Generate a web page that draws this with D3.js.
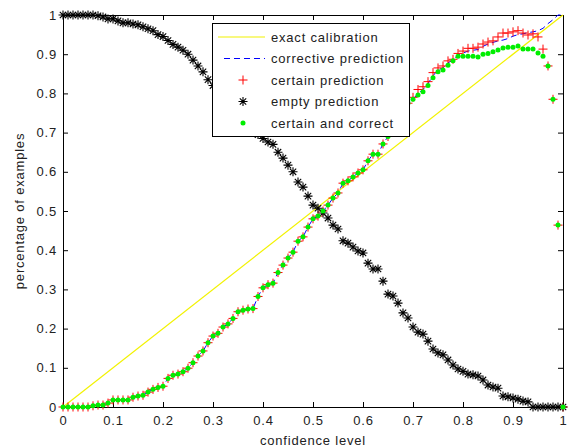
<!DOCTYPE html>
<meta charset="utf-8">
<html>
<head>
<style>
  body { margin: 0; background: #fff; }
  text { font-family: "Liberation Sans", Arial, sans-serif; fill: #222; letter-spacing: 0.8px; }
</style>
</head>
<body>
<script src="https://cdn.jsdelivr.net/npm/d3@7"></script>
<script>
  // confidence levels (x axis)
  var confidence = [
    0.00,0.01,0.02,0.03,0.04,0.05,0.06,0.07,0.08,0.09,
    0.10,0.11,0.12,0.13,0.14,0.15,0.16,0.17,0.18,0.19,
    0.20,0.21,0.22,0.23,0.24,0.25,0.26,0.27,0.28,0.29,
    0.30,0.31,0.32,0.33,0.34,0.35,0.36,0.37,0.38,0.39,
    0.40,0.41,0.42,0.43,0.44,0.45,0.46,0.47,0.48,0.49,
    0.50,0.51,0.52,0.53,0.54,0.55,0.56,0.57,0.58,0.59,
    0.60,0.61,0.62,0.63,0.64,0.65,0.66,0.67,0.68,0.69,
    0.70,0.71,0.72,0.73,0.74,0.75,0.76,0.77,0.78,0.79,
    0.80,0.81,0.82,0.83,0.84,0.85,0.86,0.87,0.88,0.89,
    0.90,0.91,0.92,0.93,0.94,0.95,0.96,0.97,0.98,0.99,
    1.00];

  var calibX = [0, 1];
  var calibY = [0, 1];

  var corrective = [
    0,0,0,0,0,0,0.003,0.005,0.005,0.01,
    0.018,0.018,0.018,0.018,0.025,0.028,0.03,0.038,0.045,0.05,
    0.053,0.073,0.081,0.084,0.09,0.099,0.113,0.13,0.143,0.164,
    0.181,0.188,0.204,0.212,0.226,0.243,0.247,0.25,0.251,0.282,
    0.304,0.312,0.316,0.343,0.362,0.38,0.395,0.423,0.434,0.459,
    0.48,0.487,0.5,0.515,0.533,0.546,0.571,0.577,0.587,0.597,
    0.605,0.628,0.645,0.645,0.671,0.69,0.715,0.74,0.76,0.775,
    0.785,0.80,0.81,0.825,0.845,0.86,0.865,0.878,0.885,0.898,
    0.903,0.908,0.91,0.912,0.92,0.926,0.93,0.934,0.936,0.94,
    0.946,0.95,0.952,0.955,0.957,0.96,0.966,0.978,0.988,1.0,
    1.0];

  var certain = [
    0,0,0,0,0,0,0.003,0.005,0.005,0.01,
    0.018,0.018,0.018,0.018,0.025,0.028,0.03,0.038,0.045,0.05,
    0.053,0.073,0.081,0.084,0.09,0.099,0.113,0.13,0.143,0.164,
    0.181,0.188,0.204,0.212,0.226,0.243,0.247,0.25,0.251,0.282,
    0.304,0.312,0.316,0.343,0.362,0.38,0.395,0.423,0.434,0.459,
    0.48,0.487,0.5,0.515,0.533,0.546,0.571,0.577,0.587,0.597,
    0.605,0.628,0.645,0.645,0.671,0.69,0.715,0.74,0.76,0.775,
    0.79,0.81,0.817,0.83,0.853,0.865,0.87,0.883,0.887,0.902,
    0.908,0.915,0.915,0.918,0.926,0.931,0.934,0.944,0.954,0.954,
    0.957,0.96,0.954,0.949,0.952,0.944,0.913,0.87,0.785,0.464,
    0];

  var empty = [
    1,1,1,1,1,1,1,0.998,0.995,0.99,
    0.99,0.985,0.98,0.98,0.977,0.975,0.97,0.965,0.96,0.95,
    0.945,0.935,0.925,0.918,0.91,0.9,0.885,0.87,0.855,0.835,
    0.82,0.81,0.8,0.785,0.77,0.755,0.74,0.725,0.71,0.695,
    0.685,0.676,0.67,0.65,0.635,0.617,0.6,0.574,0.561,0.538,
    0.515,0.507,0.495,0.482,0.464,0.454,0.424,0.418,0.408,0.398,
    0.393,0.367,0.352,0.352,0.321,0.288,0.283,0.265,0.24,0.227,
    0.204,0.191,0.186,0.168,0.148,0.138,0.133,0.12,0.107,0.097,
    0.091,0.084,0.082,0.079,0.069,0.056,0.051,0.048,0.028,0.026,
    0.023,0.02,0.015,0.013,0,0,0,0,0,0,
    0];

  var correct = [
    0,0,0,0,0,0,0.003,0.005,0.005,0.01,
    0.018,0.018,0.018,0.018,0.025,0.028,0.03,0.038,0.045,0.05,
    0.053,0.073,0.081,0.084,0.09,0.099,0.113,0.13,0.143,0.164,
    0.181,0.188,0.204,0.212,0.226,0.243,0.247,0.25,0.251,0.282,
    0.304,0.312,0.316,0.343,0.362,0.38,0.395,0.423,0.434,0.459,
    0.48,0.487,0.5,0.515,0.533,0.546,0.571,0.577,0.587,0.597,
    0.605,0.628,0.645,0.645,0.671,0.69,0.715,0.74,0.76,0.775,
    0.785,0.796,0.804,0.82,0.84,0.855,0.86,0.872,0.883,0.895,
    0.895,0.895,0.895,0.893,0.9,0.902,0.906,0.911,0.916,0.918,
    0.918,0.921,0.913,0.913,0.913,0.903,0.895,0.87,0.785,0.464,
    0];

  var xTicks = [0,0.1,0.2,0.3,0.4,0.5,0.6,0.7,0.8,0.9,1];
  var yTicks = [0,0.1,0.2,0.3,0.4,0.5,0.6,0.7,0.8,0.9,1];
  var legendLabels = ["exact calibration", "corrective prediction", "certain prediction",
                      "empty prediction", "certain and correct"];

  var W = 571, H = 447;
  var mLeft = 63, mRight = 563, mTop = 15, mBottom = 407;

  var svg = d3.select("body").append("svg")
    .attr("width", W).attr("height", H);

  var x = d3.scaleLinear().domain([0, 1]).range([mLeft, mRight]);
  var y = d3.scaleLinear().domain([0, 1]).range([mBottom, mTop]);

  var plusPath = "M-4.5,0H4.5M0,-4.5V4.5";
  var starPath = "M-4.5,0H4.5M0,-4.5V4.5M-3.2,-3.2L3.2,3.2M-3.2,3.2L3.2,-3.2";

  // axes box with inward ticks on all sides
  var tl = 5;
  var fmt = function(d) { return d3.format("")(d); };
  svg.append("g").attr("transform", "translate(0," + mBottom + ")")
    .call(d3.axisBottom(x).tickValues(xTicks).tickSize(-tl).tickPadding(9).tickFormat(fmt));
  svg.append("g").attr("transform", "translate(0," + mTop + ")")
    .call(d3.axisTop(x).tickValues(xTicks).tickSize(-tl).tickFormat(""));
  svg.append("g").attr("transform", "translate(" + mLeft + ",0)")
    .call(d3.axisLeft(y).tickValues(yTicks).tickSize(-tl).tickPadding(6).tickFormat(fmt));
  svg.append("g").attr("transform", "translate(" + mRight + ",0)")
    .call(d3.axisRight(y).tickValues(yTicks).tickSize(-tl).tickFormat(""));

  svg.selectAll(".domain").attr("stroke", "#000");
  svg.selectAll(".tick line").attr("stroke", "#000");
  svg.selectAll(".tick text").style("font-size", "13px").attr("fill", "#222")
    .style("font-family", "'Liberation Sans', Arial, sans-serif");

  var plot = svg.append("g");
  var line = d3.line().x(function(d) { return x(d[0]); }).y(function(d) { return y(d[1]); });

  // exact calibration
  plot.append("path")
    .datum(d3.zip(calibX, calibY))
    .attr("fill", "none").attr("stroke", "#f2f200").attr("stroke-width", 1.2)
    .attr("d", line);

  // corrective prediction
  plot.append("path")
    .datum(d3.zip(confidence, corrective))
    .attr("fill", "none").attr("stroke", "#0000ff").attr("stroke-width", 1)
    .attr("stroke-dasharray", "6,4")
    .attr("d", line);

  // certain prediction
  plot.selectAll(".certain").data(d3.zip(confidence, certain)).enter()
    .append("path").attr("class", "certain")
    .attr("d", plusPath).attr("stroke", "#ff0000").attr("fill", "none")
    .attr("transform", function(d) { return "translate(" + x(d[0]) + "," + y(d[1]) + ")"; });

  // empty prediction
  plot.selectAll(".empty").data(d3.zip(confidence, empty)).enter()
    .append("path").attr("class", "empty")
    .attr("d", starPath).attr("stroke", "#000").attr("stroke-width", 1.1).attr("fill", "none")
    .attr("transform", function(d) { return "translate(" + x(d[0]) + "," + y(d[1]) + ")"; });

  // certain and correct
  plot.selectAll(".correct").data(d3.zip(confidence, correct)).enter()
    .append("circle").attr("class", "correct")
    .attr("r", 2.5).attr("fill", "#00ee00")
    .attr("cx", function(d) { return x(d[0]); })
    .attr("cy", function(d) { return y(d[1]); });

  // legend
  var lg = svg.append("g");
  lg.append("rect").attr("x", 212.5).attr("y", 23.5).attr("width", 197).attr("height", 113)
    .attr("fill", "#fff").attr("stroke", "#000");
  legendLabels.forEach(function(label, i) {
    var yy = 37 + i * 21.5;
    if (i === 0) {
      lg.append("line").attr("x1", 218).attr("x2", 265).attr("y1", yy).attr("y2", yy)
        .attr("stroke", "#f2f200").attr("stroke-width", 1.2);
    } else if (i === 1) {
      lg.append("line").attr("x1", 224).attr("x2", 265).attr("y1", yy).attr("y2", yy)
        .attr("stroke", "#0000ff").attr("stroke-dasharray", "6,4");
    } else if (i === 2) {
      lg.append("path").attr("d", plusPath).attr("stroke", "#ff0000")
        .attr("transform", "translate(243," + yy + ")");
    } else if (i === 3) {
      lg.append("path").attr("d", starPath).attr("stroke", "#000").attr("stroke-width", 1.1)
        .attr("transform", "translate(243," + yy + ")");
    } else {
      lg.append("circle").attr("cx", 243).attr("cy", yy).attr("r", 2.5).attr("fill", "#00ee00");
    }
    lg.append("text").attr("x", 271).attr("y", yy).attr("dy", "0.35em")
      .style("font-size", "13px").text(label);
  });

  // axis labels
  svg.append("text").attr("x", x(0.5)).attr("y", 445).attr("text-anchor", "middle")
    .style("font-size", "13px").text("confidence level");
  svg.append("text")
    .attr("transform", "translate(24," + ((mTop + mBottom) / 2) + ") rotate(-90)")
    .attr("text-anchor", "middle")
    .style("font-size", "13px").text("percentage of examples");
</script>
</body>
</html>
